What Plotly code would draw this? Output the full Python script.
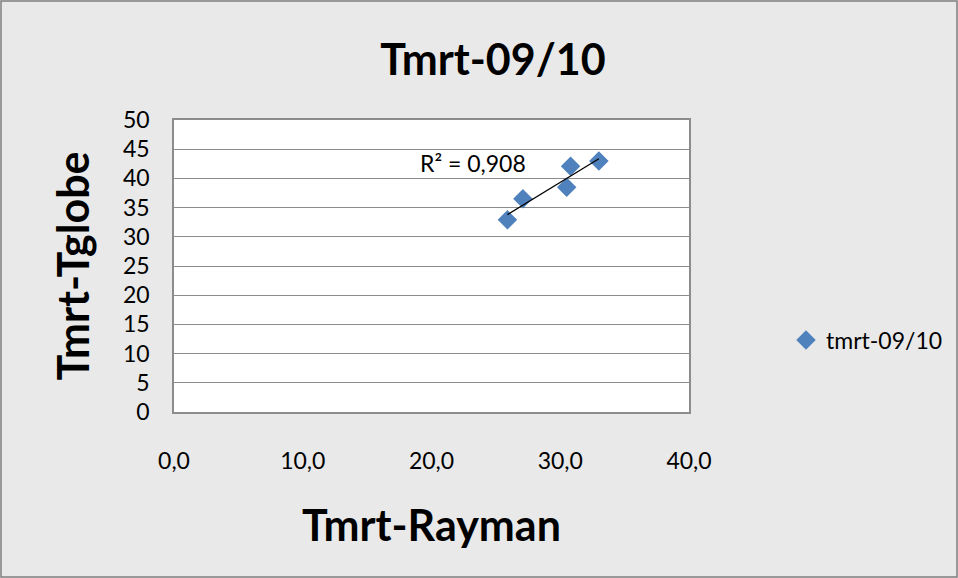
import numpy as np
import plotly.graph_objects as go

# Data
tmrt_rayman = [25.9, 27.1, 30.5, 30.8, 33.0]
tmrt_tglobe = [32.9, 36.5, 38.5, 42.1, 43.0]
series_name = "tmrt-09/10"
title_text = "Tmrt-09/10"
x_title = "Tmrt-Rayman"
y_title = "Tmrt-Tglobe"
r2_text = "R² = 0,908"
x_ticks = [0, 10, 20, 30, 40]
y_ticks = list(range(0, 55, 5))

x = np.array(tmrt_rayman)
y = np.array(tmrt_tglobe)
slope, intercept = np.polyfit(x, y, 1)
x_line = np.array([x.min(), x.max()])
y_line = slope * x_line + intercept

W, H = 958, 578
L, R, T, B = 174, 269, 120, 166
pw, ph = W - L - R, H - T - B

FONT = "Lato, Carlito, 'Open Sans', sans-serif"

fig = go.Figure()
fig.add_trace(go.Scatter(
    x=tmrt_rayman, y=tmrt_tglobe, mode="markers", name=series_name,
    marker=dict(symbol="diamond", size=15, color="#4f81bd",
                line=dict(width=0)),
))
fig.add_trace(go.Scatter(
    x=x_line, y=y_line, mode="lines", showlegend=False,
    line=dict(color="black", width=1.3), hoverinfo="skip",
))

fig.update_layout(
    width=W, height=H,
    margin=dict(l=L, r=R, t=T, b=B, autoexpand=False),
    paper_bgcolor="#e9e9e9",
    plot_bgcolor="white",
    separators=",.",
    font=dict(family=FONT, size=23, color="black"),
    title=dict(text=f"<b>{title_text}</b>", x=493 / W, xanchor="center",
               y=1 - 60 / H, yanchor="middle",
               font=dict(size=43, family=FONT)),
    xaxis=dict(range=[0, 40], tickvals=x_ticks, tickformat=".1f",
               showgrid=False, zeroline=False, showline=True,
               linecolor="#8c8c8c", linewidth=1.5, mirror=True,
               ticks="", ticklabelstandoff=28,
               title=dict(text=f"<b>{x_title}</b>", standoff=38,
                          font=dict(size=43))),
    yaxis=dict(range=[0, 50], tickvals=y_ticks,
               showgrid=True, gridcolor="#8c8c8c", gridwidth=1.2,
               zeroline=False, showline=True,
               linecolor="#8c8c8c", linewidth=1.5, mirror=True,
               ticks="", ticklabelstandoff=18,
               title=dict(text=f"<b>{y_title}</b>", standoff=20,
                          font=dict(size=43))),
    legend=dict(x=(786 - L) / pw, y=(412 - 340) / ph, xanchor="left",
                yanchor="middle", bgcolor="rgba(0,0,0,0)",
                font=dict(size=23), itemwidth=30),
    showlegend=True,
    annotations=[dict(text=r2_text, x=27.5, y=42.6, xref="x", yref="y",
                      xanchor="right", yanchor="middle", showarrow=False,
                      font=dict(size=23))],
    shapes=[dict(type="rect", xref="paper", yref="paper",
                 x0=(1 - L) / pw, x1=(W - 1 - L) / pw,
                 y0=-(H - 1 - T - ph) / ph, y1=(T - 1) / ph + 1,
                 line=dict(color="#7f7f7f", width=1.5), layer="below")],
)

fig.write_html("out.html")
